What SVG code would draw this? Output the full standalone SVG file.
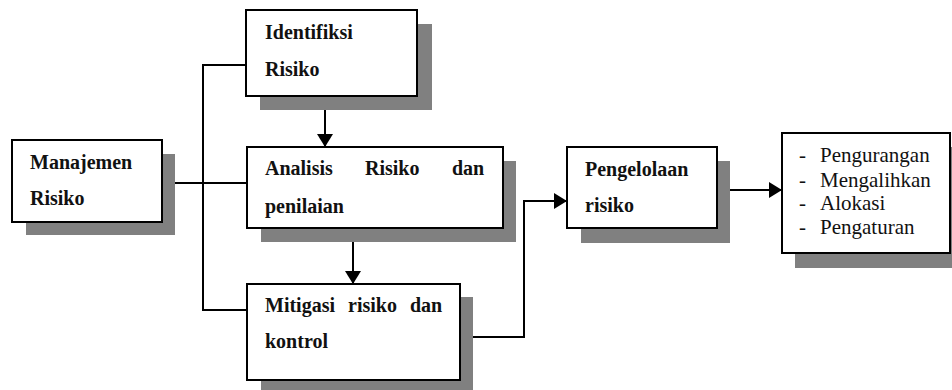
<svg xmlns="http://www.w3.org/2000/svg" width="952" height="390" viewBox="0 0 952 390">
<defs>
<marker id="ah" viewBox="0 0 13 16" refX="13" refY="8" markerWidth="13" markerHeight="16" markerUnits="userSpaceOnUse" orient="auto">
<path d="M0,0 L13,8 L0,16 z" fill="#000"/>
</marker>
</defs>
<style>
.sh{fill:#808080}
.bx{fill:#fff;stroke:#000;stroke-width:2}
.b{font-weight:bold;font-size:20px;fill:#111}
.r{font-size:21px;fill:#111}
.ln{fill:none;stroke:#000;stroke-width:2}
</style>
<rect width="952" height="390" fill="#fff"/>
<g id="connectors">
<path class="ln" d="M162,183 H246"/>
<path class="ln" d="M246,65 H203 V310 H246"/>
<path class="ln" d="M325,96 V147" marker-end="url(#ah)"/>
<path class="ln" d="M353,228 V284" marker-end="url(#ah)"/>
<path class="ln" d="M460,337 H524 V201 H567" marker-end="url(#ah)"/>
<path class="ln" d="M717,190 H782" marker-end="url(#ah)"/>
</g>
<g font-family="Liberation Serif, DejaVu Serif, serif">
<g id="manajemen">
<rect class="sh" x="26" y="154" width="149" height="81"/>
<rect class="bx" x="12" y="140" width="150" height="82"/>
<text class="b" x="30" y="169">Manajemen</text>
<text class="b" x="30" y="205">Risiko</text>
</g>
<g id="identifikasi">
<rect class="sh" x="260" y="24" width="172" height="86"/>
<rect class="bx" x="246" y="10" width="171" height="86"/>
<text class="b" x="265" y="39">Identifiksi</text>
<text class="b" x="265" y="76">Risiko</text>
</g>
<g id="analisis">
<rect class="sh" x="261" y="161" width="255" height="81"/>
<rect class="bx" x="247" y="147" width="256" height="81"/>
<text class="b" x="265" y="175">Analisis</text>
<text class="b" x="365" y="175">Risiko</text>
<text class="b" x="452" y="175">dan</text>
<text class="b" x="265" y="213">penilaian</text>
</g>
<g id="mitigasi">
<rect class="sh" x="261" y="297" width="212" height="100"/>
<rect class="bx" x="247" y="284" width="213" height="96"/>
<text class="b" x="265" y="312">Mitigasi</text>
<text class="b" x="348" y="312">risiko</text>
<text class="b" x="410" y="312">dan</text>
<text class="b" x="265" y="348">kontrol</text>
</g>
<g id="pengelolaan">
<rect class="sh" x="581" y="161" width="149" height="82"/>
<rect class="bx" x="567" y="147" width="150" height="81"/>
<text class="b" x="585" y="176">Pengelolaan</text>
<text class="b" x="585" y="212">risiko</text>
</g>
<g id="daftar">
<rect class="sh" x="795" y="147" width="170" height="121"/>
<rect class="bx" x="782" y="133" width="168" height="120"/>
<text class="r" x="799" y="162">-</text><text class="r" x="820" y="162">Pengurangan</text>
<text class="r" x="799" y="187">-</text><text class="r" x="820" y="187">Mengalihkan</text>
<text class="r" x="799" y="210">-</text><text class="r" x="820" y="210">Alokasi</text>
<text class="r" x="799" y="234">-</text><text class="r" x="820" y="234">Pengaturan</text>
</g>
</g>
</svg>
